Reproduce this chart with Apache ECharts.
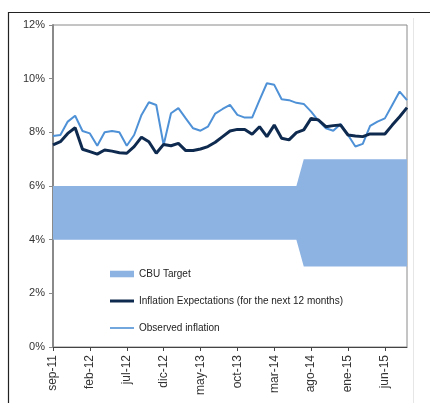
<!DOCTYPE html>
<html>
<head>
<meta charset="utf-8">
<script src="https://cdn.jsdelivr.net/npm/echarts@6/dist/echarts.min.js"></script>
<style>
html,body{margin:0;padding:0;background:#fff;}
#chart{width:430px;height:403px;}
</style>
</head>
<body>
<div id="chart"></div>
<script>
var categories = [
  'sep-11','oct-11','nov-11','dic-11','ene-12','feb-12','mar-12','abr-12','may-12','jun-12','jul-12','ago-12',
  'sep-12','oct-12','nov-12','dic-12','ene-13','feb-13','mar-13','abr-13','may-13','jun-13','jul-13','ago-13',
  'sep-13','oct-13','nov-13','dic-13','ene-14','feb-14','mar-14','abr-14','may-14','jun-14','jul-14','ago-14',
  'sep-14','oct-14','nov-14','dic-14','ene-15','feb-15','mar-15','abr-15','may-15','jun-15','jul-15','ago-15','sep-15'
];
var targetLow = [4,4,4,4,4,4,4,4,4,4,4,4,4,4,4,4,4,4,4,4,4,4,4,4,4,4,4,4,4,4,4,4,4,4,3,3,3,3,3,3,3,3,3,3,3,3,3,3,3];
var targetHigh = [6,6,6,6,6,6,6,6,6,6,6,6,6,6,6,6,6,6,6,6,6,6,6,6,6,6,6,6,6,6,6,6,6,6,7,7,7,7,7,7,7,7,7,7,7,7,7,7,7];
var expectations = [7.53,7.65,7.96,8.17,7.37,7.28,7.19,7.34,7.30,7.24,7.22,7.47,7.82,7.65,7.22,7.55,7.50,7.59,7.32,7.32,7.38,7.47,7.63,
  7.84,8.05,8.11,8.11,7.93,8.21,7.84,8.27,7.78,7.72,7.99,8.09,8.52,8.46,8.21,8.25,8.27,7.90,7.86,7.84,7.94,7.94,7.94,8.27,8.58,8.92];
var observed = [7.86,7.90,8.40,8.62,8.05,7.96,7.50,8.00,8.05,8.00,7.50,7.90,8.65,9.12,9.02,7.53,8.71,8.90,8.52,8.15,8.06,8.21,8.70,
  8.87,9.02,8.65,8.55,8.55,9.20,9.83,9.77,9.23,9.20,9.10,9.06,8.77,8.43,8.15,8.06,8.31,7.90,7.47,7.57,8.24,8.40,8.52,9.02,9.52,9.20];
var yTicks = [0,2,4,6,8,10,12];

var bandWidth = targetHigh.map(function(h,i){ return +(h - targetLow[i]).toFixed(2); });

var chart = echarts.init(document.getElementById('chart'), null, {renderer:'canvas'});
var font = 'Liberation Sans, Arial, sans-serif';
chart.setOption({
  animation: false,
  backgroundColor: '#fff',
  graphic: [
    {type:'line', shape:{x1:8,y1:12.5,x2:430,y2:12.5}, style:{stroke:'#222',lineWidth:1.2}, z:100},
    {type:'line', shape:{x1:8.5,y1:12,x2:8.5,y2:403}, style:{stroke:'#222',lineWidth:1.2}, z:100},
    {type:'line', shape:{x1:413.5,y1:18,x2:413.5,y2:403}, style:{stroke:'#e6e6e6',lineWidth:1}, z:100}
  ],
  grid: {left:53, right:23, top:25, bottom:56, show:true, borderColor:'#8a8a8a', borderWidth:1, containLabel:false},
  legend: {
    orient:'vertical', left:105, top:263, itemWidth:24, itemHeight:12, itemGap:15,
    textStyle:{fontFamily:font, fontSize:10, color:'#222', lineHeight:12},
    data:[
      {name:'CBU Target', icon:'path://M0,0L22,0L22,6L0,6Z', itemStyle:{color:'#8db3e2'}},
      {name:'Inflation Expectations (for the next 12 months)', icon:'path://M0,0L24,0L24,3L0,3Z', itemStyle:{color:'#0f2a4f'}},
      {name:'Observed inflation', icon:'path://M0,0L24,0L24,1.6L0,1.6Z', itemStyle:{color:'#4f91d6'}}
    ]
  },
  xAxis: {
    type:'category', data:categories, boundaryGap:false,
    axisLine:{lineStyle:{color:'#444', width:1}},
    axisTick:{show:true, interval:4, length:4, lineStyle:{color:'#444'}},
    axisLabel:{interval:4, rotate:90, margin:8, fontFamily:font, fontSize:12, color:'#333'},
    splitLine:{show:false}
  },
  yAxis: {
    type:'value', min:yTicks[0], max:yTicks[yTicks.length-1], interval:2,
    axisLine:{show:true, lineStyle:{color:'#8a8a8a', width:2}},
    axisTick:{show:true, length:4, lineStyle:{color:'#8a8a8a'}},
    axisLabel:{formatter:'{value}%', fontFamily:font, fontSize:11, color:'#333', margin:8},
    splitLine:{show:false}
  },
  series: [
    {name:'base', type:'line', stack:'target', data:targetLow, symbol:'none',
     lineStyle:{opacity:0}, silent:true, z:1},
    {name:'CBU Target', type:'line', stack:'target', data:bandWidth, symbol:'none',
     lineStyle:{opacity:0}, itemStyle:{color:'#8db3e2'},
     areaStyle:{color:'#8db3e2', opacity:1}, z:1},
    {name:'Observed inflation', type:'line', data:observed, symbol:'none',
     lineStyle:{color:'#4f91d6', width:2}, itemStyle:{color:'#4f91d6'}, z:3},
    {name:'Inflation Expectations (for the next 12 months)', type:'line', data:expectations, symbol:'none',
     lineStyle:{color:'#0f2a4f', width:3}, itemStyle:{color:'#0f2a4f'}, z:4}
  ]
});
</script>
</body>
</html>
